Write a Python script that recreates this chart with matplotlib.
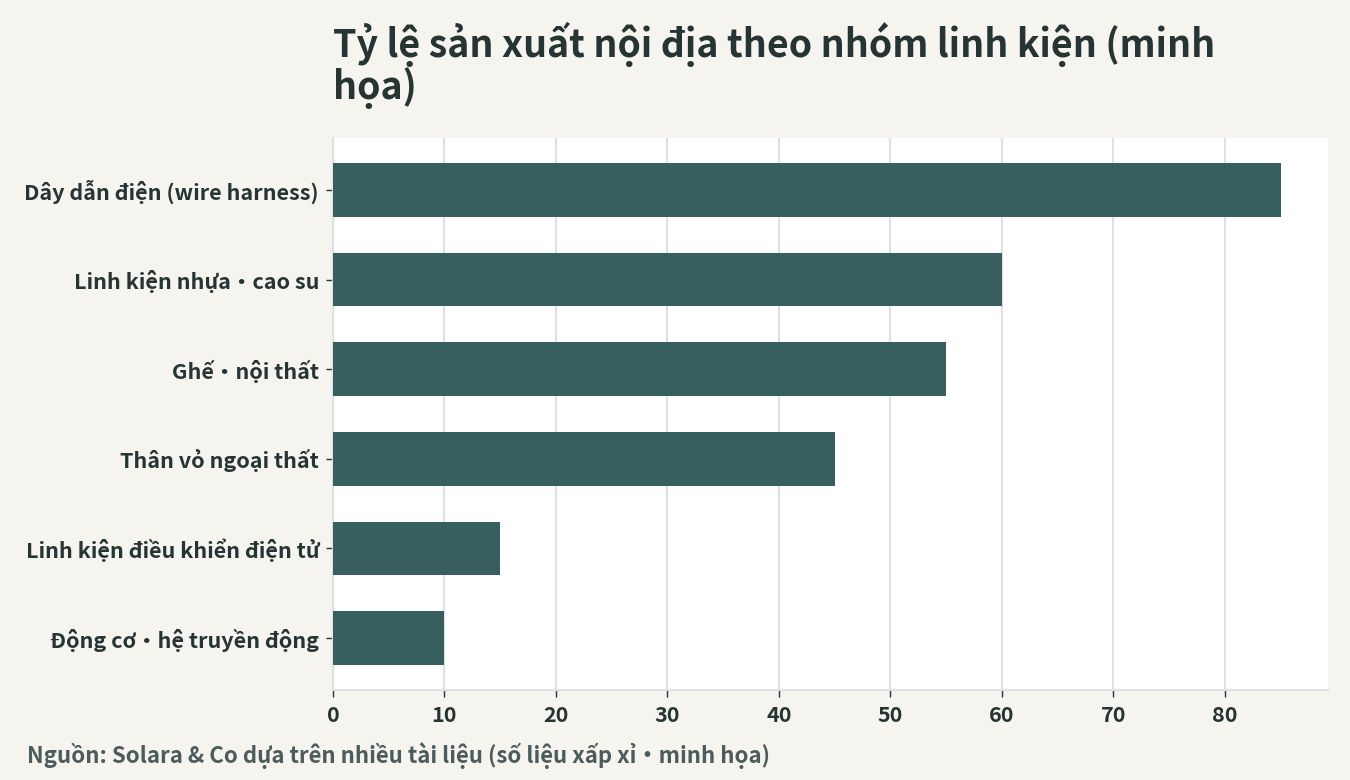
import matplotlib.pyplot as plt

categories = [
    "Dây dẫn điện (wire harness)",
    "Linh kiện nhựa・cao su",
    "Ghế・nội thất",
    "Thân vỏ ngoại thất",
    "Linh kiện điều khiển điện tử",
    "Động cơ・hệ truyền động",
]
values = [85, 60, 55, 45, 15, 10]

plt.rcParams['font.family'] = ['Noto Sans CJK JP', 'DejaVu Sans']

bg = "#F5F4EF"
bar_color = "#385F5F"
text_color = "#263434"
grid_color = "#DCE2E2"

fig = plt.figure(figsize=(13.5, 7.8), dpi=100, facecolor=bg)
ax = fig.add_axes([333 / 1350, 90 / 780, 995 / 1350, 552 / 780])
ax.set_facecolor("white")

ypos = list(range(len(categories)))[::-1]
ax.barh(ypos, values, height=0.6, color=bar_color, zorder=3)
ax.set_yticks(ypos)
ax.set_yticklabels(categories)
ax.set_xlim(0, max(values) * 1.05)
ax.set_xticks(range(0, 90, 10))

ax.grid(axis="x", color=grid_color, linewidth=1.5, zorder=0)
for s in ["top", "right"]:
    ax.spines[s].set_visible(False)
for s in ["left", "bottom"]:
    ax.spines[s].set_color(grid_color)
    ax.spines[s].set_linewidth(1.5)

ax.tick_params(axis="both", colors=text_color, labelsize=15.5, length=5, width=1)
ax.tick_params(axis="x", pad=6)
ax.tick_params(axis="y", pad=5)
for lbl in ax.get_xticklabels() + ax.get_yticklabels():
    lbl.set_fontweight("bold")

fig.text(333 / 1350, 1 - 99 / 780,
         "Tỷ lệ sản xuất nội địa theo nhóm linh kiện (minh\nhọa)",
         fontsize=27, fontweight="bold", color=text_color, ha="left", va="baseline",
         linespacing=1.0)
fig.text(27 / 1350, 1 - 763 / 780,
         "Nguồn: Solara & Co dựa trên nhiều tài liệu (số liệu xấp xỉ・minh họa)",
         fontsize=16, fontweight="bold", color="#4C5C5C", ha="left", va="baseline")

fig.savefig("out.png", dpi=100, facecolor=bg)
